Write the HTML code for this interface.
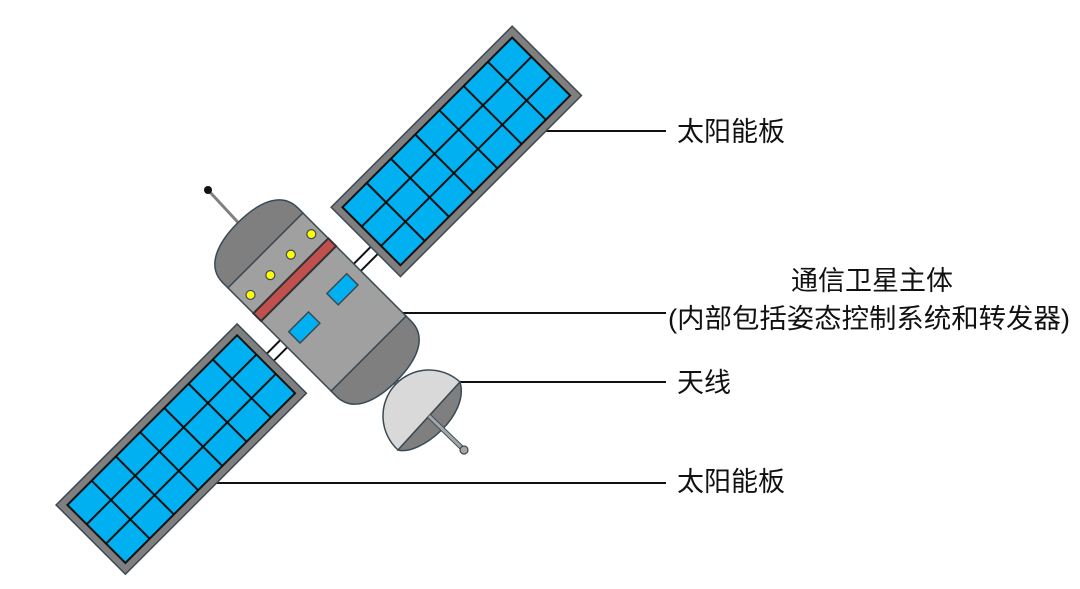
<!DOCTYPE html>
<html><head><meta charset="utf-8"><style>
html,body{margin:0;padding:0;background:#fff;}
svg{display:block;}
text{font-family:"Liberation Sans","Noto Sans CJK SC",sans-serif;font-size:27px;fill:#111;}
</style></head><body>
<svg width="1080" height="589" viewBox="0 0 1080 589" xmlns="http://www.w3.org/2000/svg">
<g stroke="#111" stroke-width="2">
<line x1="545" y1="131" x2="666" y2="131"/>
<line x1="403" y1="313" x2="666" y2="313"/>
<line x1="458" y1="382" x2="666" y2="382"/>
<line x1="216" y1="483" x2="666" y2="483"/>
</g>
<line x1="208" y1="190" x2="246" y2="231" stroke="#808080" stroke-width="3"/>
<circle cx="208" cy="190" r="4" fill="#111"/>
<line x1="386" y1="372" x2="400" y2="386" stroke="#3a4a55" stroke-width="6"/>
<line x1="386" y1="372" x2="400" y2="386" stroke="#a6a6a6" stroke-width="3.5"/>
<g transform="translate(317,302) rotate(45)">
  <rect x="-1" y="-80" width="10" height="30" fill="#fff" stroke="#111" stroke-width="2"/>
  <rect x="1" y="50" width="10" height="26" fill="#fff" stroke="#111" stroke-width="2"/>
  <rect x="-57" y="-333" width="98" height="256" fill="#7f7f7f" stroke="#3a4a55" stroke-width="1.5"/>
  <rect x="-49" y="-325" width="82" height="240" fill="#00b0f0" stroke="#111" stroke-width="2"/>
  <g stroke="#111" stroke-width="2">
    <line x1="-21.7" y1="-325" x2="-21.7" y2="-85"/><line x1="5.7" y1="-325" x2="5.7" y2="-85"/>
    <line x1="-49" y1="-290.7" x2="33" y2="-290.7"/><line x1="-49" y1="-256.4" x2="33" y2="-256.4"/>
    <line x1="-49" y1="-222.1" x2="33" y2="-222.1"/><line x1="-49" y1="-187.9" x2="33" y2="-187.9"/>
    <line x1="-49" y1="-153.6" x2="33" y2="-153.6"/><line x1="-49" y1="-119.3" x2="33" y2="-119.3"/>
  </g>
  <rect x="-41" y="72" width="98" height="256" fill="#7f7f7f" stroke="#3a4a55" stroke-width="1.5"/>
  <rect x="-33" y="80" width="82" height="240" fill="#00b0f0" stroke="#111" stroke-width="2"/>
  <g stroke="#111" stroke-width="2">
    <line x1="-5.7" y1="80" x2="-5.7" y2="320"/><line x1="21.7" y1="80" x2="21.7" y2="320"/>
    <line x1="-33" y1="114.3" x2="49" y2="114.3"/><line x1="-33" y1="148.6" x2="49" y2="148.6"/>
    <line x1="-33" y1="182.9" x2="49" y2="182.9"/><line x1="-33" y1="217.1" x2="49" y2="217.1"/>
    <line x1="-33" y1="251.4" x2="49" y2="251.4"/><line x1="-33" y1="285.7" x2="49" y2="285.7"/>
  </g>
  <rect x="-73" y="-53" width="146" height="106" fill="#a0a0a0" stroke="#3a4a55" stroke-width="1.5"/>
  <path d="M -73,-53 L -80,-53 C -104,-53 -112,-28 -112,0 C -112,28 -104,53 -80,53 L -73,53 Z" fill="#7f7f7f" stroke="#3a4a55" stroke-width="1.5"/>
  <path d="M 73,-53 L 80,-53 C 104,-53 112,-28 112,0 C 112,28 104,53 80,53 L 73,53 Z" fill="#7f7f7f" stroke="#3a4a55" stroke-width="1.5"/>
  <rect x="-37" y="-53" width="11" height="106" fill="#c0504d" stroke="#333" stroke-width="2"/>
  <g fill="#ffff00" stroke="#3a4a55" stroke-width="1.2">
    <circle cx="-52" cy="-44" r="4.5"/><circle cx="-52" cy="-15" r="4.5"/>
    <circle cx="-52" cy="14" r="4.5"/><circle cx="-52" cy="42" r="4.5"/>
  </g>
  <rect x="1" y="-41" width="16" height="28" fill="#00b0f0" stroke="#3a4a55" stroke-width="1.5"/>
  <rect x="1" y="13" width="16" height="28" fill="#00b0f0" stroke="#3a4a55" stroke-width="1.5"/>
</g>
<path d="M 460,382 A 44,44 0 0 0 398,450 Z" fill="#d9d9d9" stroke="#3a4a55" stroke-width="1.5"/>
<path d="M 398,450 C 420,456 470,415 460,382 Z" fill="#7f7f7f" stroke="#3a4a55" stroke-width="1.5"/>
<line x1="429" y1="416" x2="463" y2="449" stroke="#3a4a55" stroke-width="5"/>
<line x1="429" y1="416" x2="463" y2="449" stroke="#a6a6a6" stroke-width="3"/>
<circle cx="464" cy="450" r="4" fill="#a6a6a6" stroke="#3a4a55" stroke-width="1.2"/>
<text x="677" y="141">太阳能板</text>
<text x="872" y="290" text-anchor="middle">通信卫星主体</text>
<text x="668" y="328" textLength="402" lengthAdjust="spacingAndGlyphs">(内部包括姿态控制系统和转发器)</text>
<text x="677" y="392">天线</text>
<text x="677" y="491">太阳能板</text>
</svg>
</body></html>
